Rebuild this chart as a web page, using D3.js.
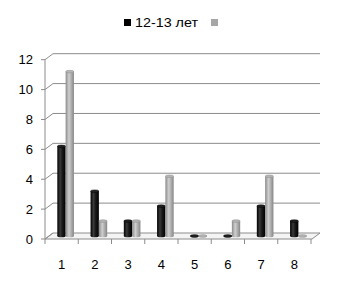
<!DOCTYPE html>
<html>
<head>
<meta charset="utf-8">
<script src="https://cdn.jsdelivr.net/npm/d3@7"></script>
<style>
  body { margin: 0; background: #fff; }
  text { font-family: "Liberation Sans", Arial, sans-serif; fill: #000; }
</style>
</head>
<body>
<script>
// categories along the x axis
var categories = ['1', '2', '3', '4', '5', '6', '7', '8'];
// black series (12-13 лет)
var seriesA = [6, 3, 1, 2, 0, 0, 2, 1];
// grey series (no name in legend)
var seriesB = [11, 1, 1, 4, 0, 1, 4, 0];
var seriesNames = ['12-13 лет', ''];
var yTicks = [0, 2, 4, 6, 8, 10, 12];

var W = 340, H = 289;
// depth offsets of the 3d box
var depthX = 8, depthY = -6;

var svg = d3.select("body").append("svg")
  .attr("width", W)
  .attr("height", H);

var defs = svg.append("defs");
function cylGrad(id, stops) {
  var g = defs.append("linearGradient").attr("id", id)
    .attr("x1", "0").attr("x2", "1").attr("y1", "0").attr("y2", "0");
  stops.forEach(function(s) {
    g.append("stop").attr("offset", s[0]).attr("stop-color", s[1]);
  });
}
cylGrad("gA", [[0, "#000"], [0.35, "#3a3a3a"], [0.6, "#1a1a1a"], [1, "#000"]]);
cylGrad("gB", [[0, "#8a8a8a"], [0.4, "#cfcfcf"], [0.7, "#ababab"], [1, "#868686"]]);

var x = d3.scaleBand()
  .domain(categories)
  .range([45, 311]);

var y = d3.scaleLinear()
  .domain([0, 12])
  .range([239, 59.7]);

var gridColor = "#8c8c8c";

// floor
svg.append("polygon")
  .attr("points", [[45, y(0)], [312, y(0)], [312 + depthX, y(0) + depthY], [45 + depthX, y(0) + depthY]].join(" "))
  .attr("fill", "#f4f4f4")
  .attr("stroke", gridColor);

// back wall gridlines + diagonals to the front axis
yTicks.forEach(function(t) {
  if (t > 0) {
    svg.append("line")
      .attr("x1", 45 + depthX).attr("x2", 312 + depthX)
      .attr("y1", y(t) + depthY).attr("y2", y(t) + depthY)
      .attr("stroke", gridColor);
  }
  svg.append("line")
    .attr("x1", 45).attr("y1", y(t))
    .attr("x2", 45 + depthX).attr("y2", y(t) + depthY)
    .attr("stroke", gridColor);
  svg.append("line")
    .attr("x1", 41).attr("x2", 45)
    .attr("y1", y(t)).attr("y2", y(t))
    .attr("stroke", gridColor);
  svg.append("text")
    .attr("x", 33).attr("y", y(t))
    .attr("text-anchor", "end")
    .attr("dominant-baseline", "central")
    .attr("font-size", "13")
    .text(t);
});

// front vertical axis
svg.append("line")
  .attr("x1", 45).attr("x2", 45)
  .attr("y1", y(12)).attr("y2", y(0))
  .attr("stroke", gridColor);

// x ticks
var tickXs = categories.map(function(c) { return x(c); }).concat([x.range()[1]]);
svg.selectAll("line.xtick")
  .data(tickXs)
  .enter().append("line")
    .attr("class", "xtick")
    .attr("x1", d => d).attr("x2", d => d)
    .attr("y1", y(0)).attr("y2", y(0) + 5)
    .attr("stroke", gridColor);

svg.selectAll("text.xlab")
  .data(categories)
  .enter().append("text")
    .attr("class", "xlab")
    .attr("x", d => x(d) + x.bandwidth() / 2)
    .attr("y", 264)
    .attr("text-anchor", "middle")
    .attr("dominant-baseline", "central")
    .attr("font-size", "13")
    .text(d => d);

// bars as cylinders, placed at mid depth
var barW = 8.3;
var midX = depthX / 2, midY = depthY / 2;
var bars = [];
categories.forEach(function(c, i) {
  bars.push({ c: c, v: seriesA[i], s: 0 });
  bars.push({ c: c, v: seriesB[i], s: 1 });
});

var bg = svg.selectAll("g.bar")
  .data(bars)
  .enter().append("g")
    .attr("class", "bar")
    .attr("transform", function(d) {
      var x0 = x(d.c) + x.bandwidth() / 2 - barW + d.s * barW + midX;
      return "translate(" + x0 + "," + midY + ")";
    });

bg.append("rect")
  .attr("x", 0)
  .attr("width", barW)
  .attr("y", d => y(d.v))
  .attr("height", d => y(0) - y(d.v))
  .attr("fill", d => d.s === 0 ? "url(#gA)" : "url(#gB)");

bg.append("ellipse")
  .attr("cx", barW / 2)
  .attr("cy", y(0))
  .attr("rx", barW / 2)
  .attr("ry", 1.3)
  .attr("fill", d => d.s === 0 ? "url(#gA)" : "url(#gB)");

bg.append("ellipse")
  .attr("cx", barW / 2)
  .attr("cy", d => y(d.v))
  .attr("rx", barW / 2)
  .attr("ry", 1.3)
  .attr("fill", d => d.s === 0 ? "#222" : "#b5b5b5")
  .attr("stroke", d => d.s === 0 ? "#000" : "#8a8a8a")
  .attr("stroke-width", 0.5);

// legend
var legend = svg.append("g");
legend.append("rect")
  .attr("x", 124).attr("y", 19)
  .attr("width", 7).attr("height", 7)
  .attr("fill", "#000");
legend.append("text")
  .attr("x", 135).attr("y", 27)
  .attr("font-size", "13")
  .attr("textLength", 63)
  .attr("lengthAdjust", "spacingAndGlyphs")
  .text(seriesNames[0]);
legend.append("rect")
  .attr("x", 211).attr("y", 19)
  .attr("width", 7).attr("height", 7)
  .attr("fill", "#a6a6a6");
</script>
</body>
</html>
